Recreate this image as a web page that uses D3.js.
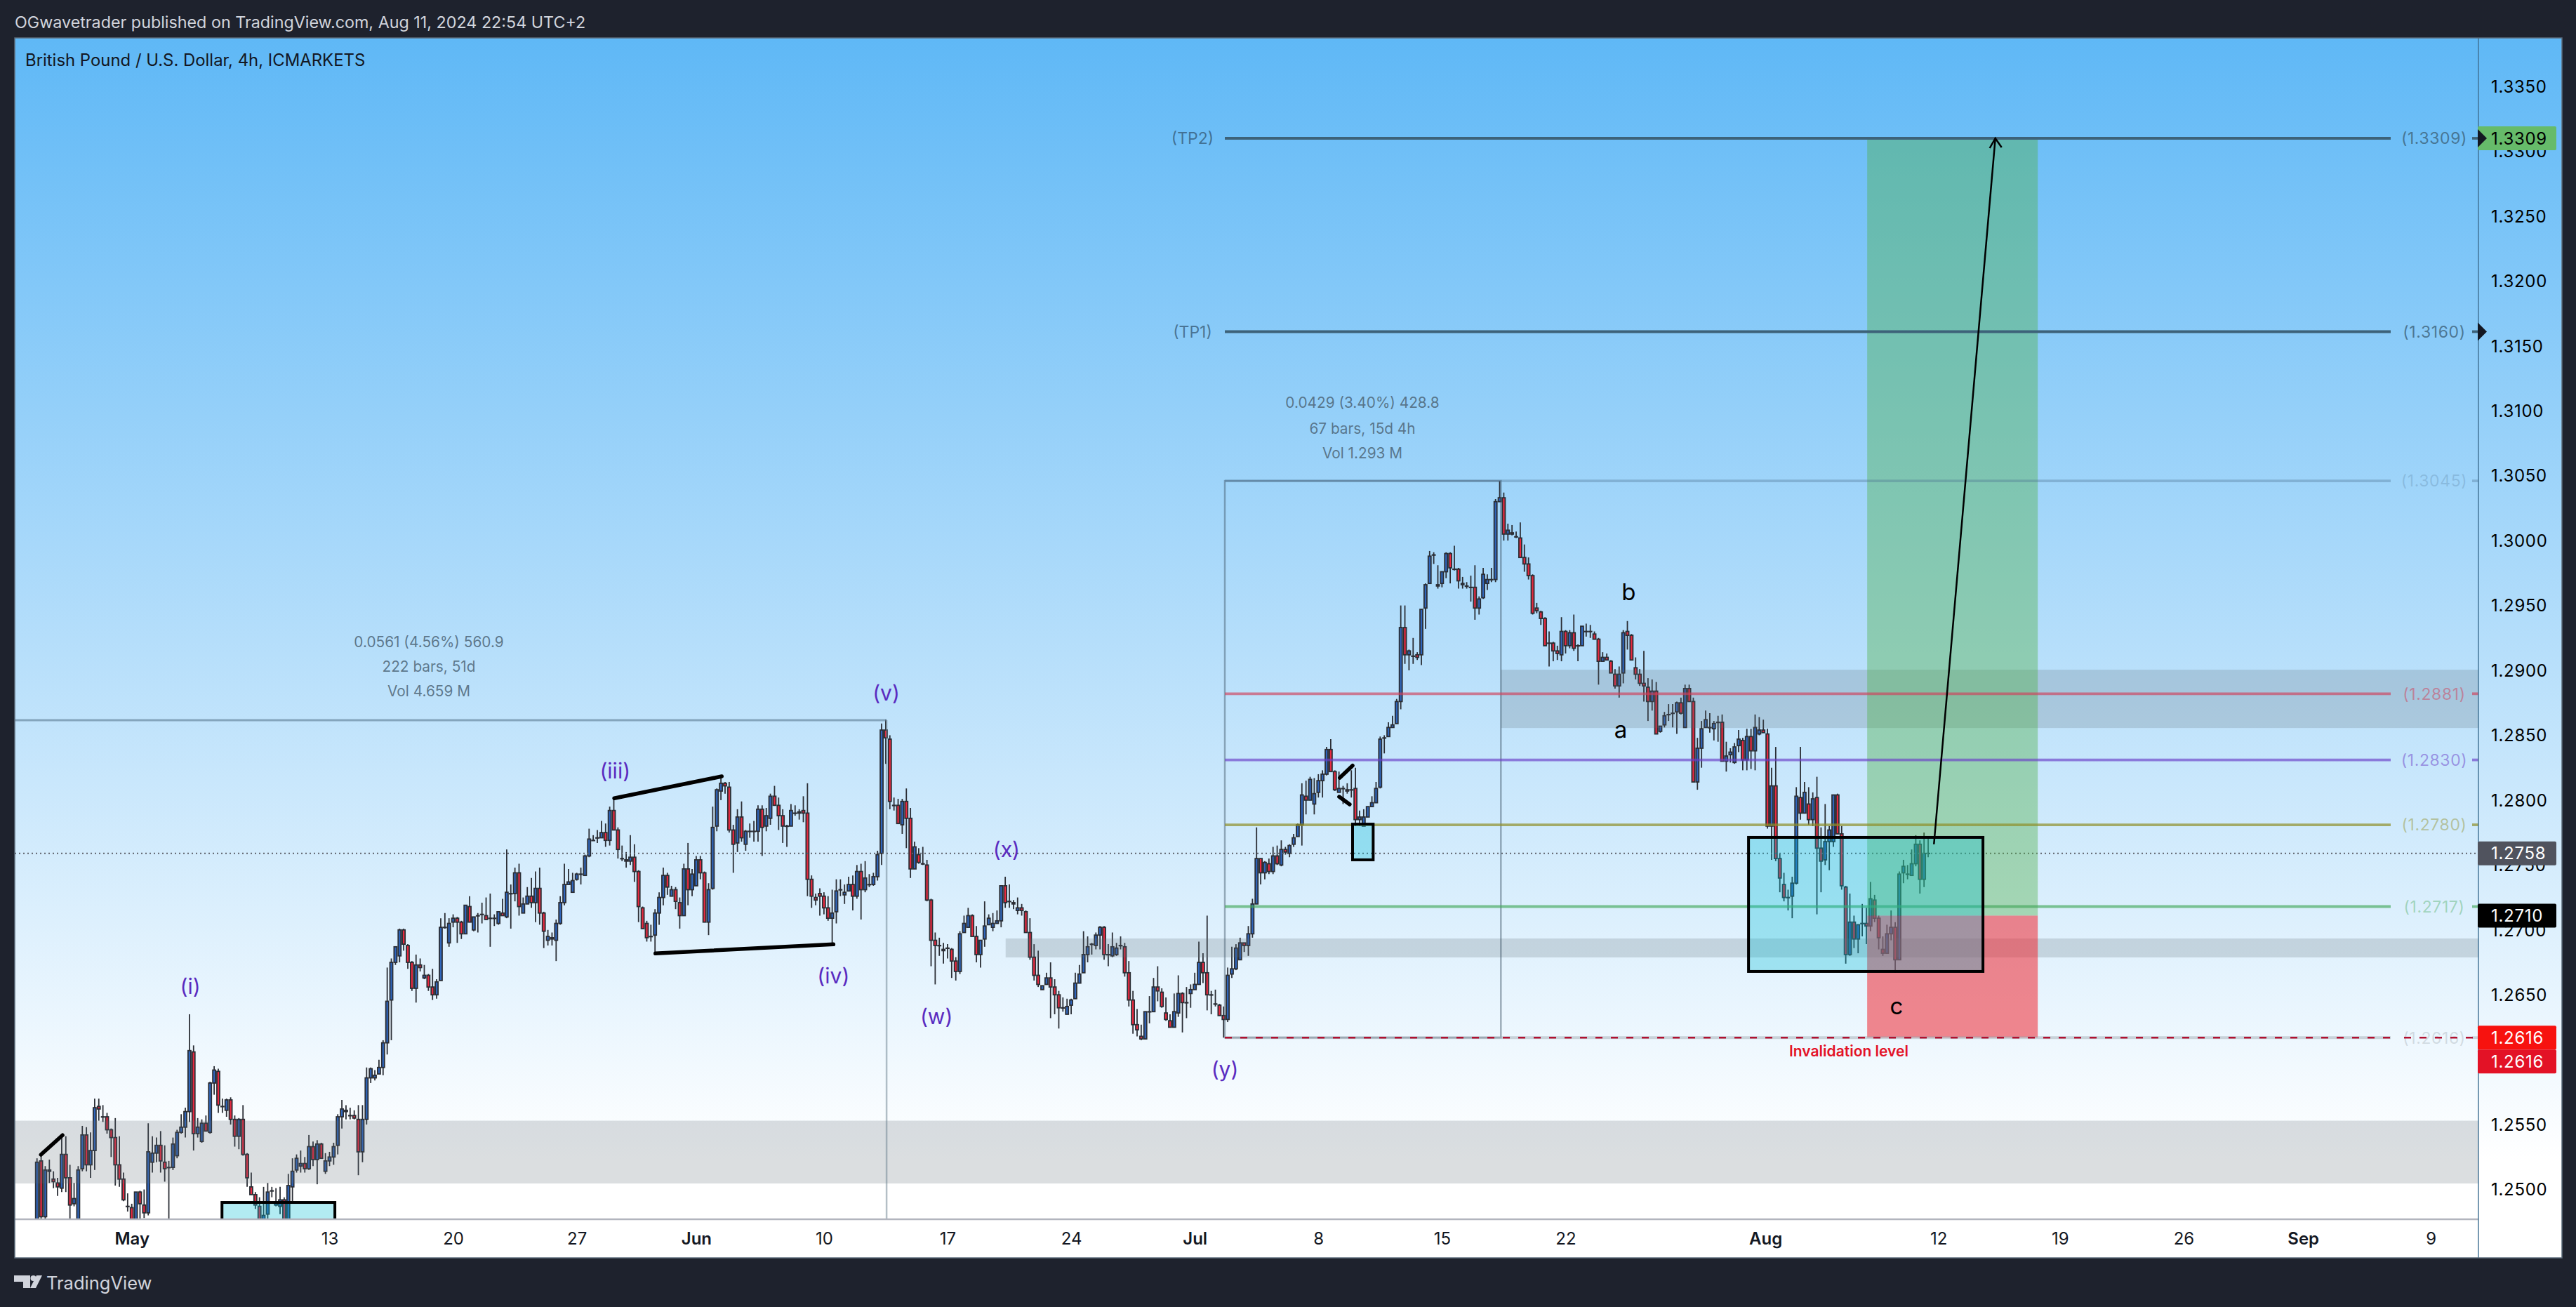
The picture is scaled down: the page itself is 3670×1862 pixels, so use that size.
<!DOCTYPE html>
<html>
<head>
<meta charset="utf-8">
<script src="https://cdn.jsdelivr.net/npm/d3@7"></script>
<style>
html, body { margin: 0; padding: 0; background: #1e222d; overflow: hidden; }
svg { display: block; }
text { font-family: Inter, "Noto Sans", sans-serif; }
</style>
</head>
<body>
<div id="chart"></div>
<script>
// GBPUSD 4h bars, one line per ten bars
var opens = [
1.2465,1.2521,1.2478,1.2513,1.2507,1.2504,1.2500,1.2526,1.2508,1.2488,
1.2470,1.2515,1.2541,1.2518,1.2529,1.2563,1.2555,1.2555,1.2545,1.2539,
1.2518,1.2507,1.2486,1.2485,1.2472,1.2497,1.2487,1.2481,1.2520,1.2527,
1.2533,1.2520,1.2516,1.2516,1.2525,1.2543,1.2547,1.2559,1.2605,1.2542,
1.2536,1.2550,1.2543,1.2581,1.2590,1.2563,1.2560,1.2568,1.2553,1.2540,
1.2553,1.2526,1.2501,1.2495,1.2486,1.2470,1.2480,1.2498,1.2487,1.2486,
1.2491,1.2472,1.2501,1.2514,1.2517,1.2519,1.2515,1.2532,1.2522,1.2534,
1.2513,1.2521,1.2524,1.2533,1.2555,1.2560,1.2556,1.2556,1.2553,1.2528,
1.2553,1.2585,1.2585,1.2588,1.2593,1.2612,1.2645,1.2674,1.2679,1.2699,
1.2687,1.2674,1.2654,1.2672,1.2662,1.2664,1.2655,1.2649,1.2660,1.2701,
1.2689,1.2705,1.2708,1.2705,1.2696,1.2717,1.2699,1.2710,1.2711,1.2710,
1.2708,1.2708,1.2704,1.2712,1.2709,1.2727,1.2727,1.2743,1.2712,1.2719,
1.2725,1.2720,1.2731,1.2712,1.2691,1.2693,1.2691,1.2704,1.2720,1.2734,
1.2728,1.2738,1.2742,1.2741,1.2756,1.2768,1.2770,1.2770,1.2774,1.2768,
1.2791,1.2776,1.2754,1.2753,1.2752,1.2755,1.2744,1.2716,1.2704,1.2694,
1.2695,1.2712,1.2724,1.2741,1.2725,1.2730,1.2720,1.2710,1.2746,1.2730,
1.2733,1.2753,1.2743,1.2705,1.2731,1.2779,1.2806,1.2812,1.2809,1.2776,
1.2766,1.2786,1.2765,1.2775,1.2775,1.2775,1.2792,1.2779,1.2785,1.2802,
1.2795,1.2787,1.2779,1.2779,1.2789,1.2789,1.2791,1.2789,1.2738,1.2724,
1.2727,1.2725,1.2716,1.2708,1.2713,1.2730,1.2726,1.2729,1.2734,1.2725,
1.2744,1.2730,1.2734,1.2734,1.2740,1.2758,1.2853,1.2846,1.2795,1.2795,
1.2780,1.2798,1.2785,1.2746,1.2757,1.2750,1.2749,1.2722,1.2691,1.2687,
1.2684,1.2685,1.2684,1.2675,1.2667,1.2697,1.2701,1.2710,1.2694,1.2680,
1.2692,1.2703,1.2701,1.2704,1.2706,1.2733,1.2721,1.2720,1.2714,1.2716,
1.2713,1.2697,1.2678,1.2664,1.2653,1.2657,1.2662,1.2655,1.2649,1.2639,
1.2634,1.2641,1.2646,1.2658,1.2666,1.2680,1.2688,1.2687,1.2695,1.2701,
1.2680,1.2679,1.2680,1.2687,1.2686,1.2666,1.2645,1.2626,1.2617,1.2615,
1.2636,1.2636,1.2655,1.2651,1.2635,1.2629,1.2624,1.2635,1.2650,1.2643,
1.2650,1.2653,1.2657,1.2674,1.2666,1.2649,1.2642,1.2641,1.2633,1.2630,
1.2665,1.2669,1.2676,1.2689,1.2687,1.2696,1.2719,1.2754,1.2743,1.2750,
1.2744,1.2756,1.2749,1.2761,1.2758,1.2765,1.2771,1.2780,1.2802,1.2799,
1.2796,1.2805,1.2814,1.2819,1.2838,1.2821,1.2805,1.2808,1.2807,1.2807,
1.2808,1.2784,1.2779,1.2786,1.2794,1.2797,1.2809,1.2847,1.2848,1.2855,
1.2858,1.2875,1.2932,1.2911,1.2910,1.2911,1.2911,1.2947,1.2966,1.2988,
1.2964,1.2966,1.2975,1.2989,1.2977,1.2977,1.2965,1.2964,1.2963,1.2963,
1.2947,1.2955,1.2966,1.2969,1.2969,1.3029,1.3032,1.3004,1.3005,1.3002,
1.3001,1.2986,1.2981,1.2972,1.2947,1.2944,1.2939,1.2920,1.2920,1.2914,
1.2911,1.2929,1.2918,1.2928,1.2918,1.2918,1.2929,1.2929,1.2927,1.2923,
1.2906,1.2909,1.2906,1.2896,1.2887,1.2897,1.2929,1.2926,1.2901,1.2896,
1.2889,1.2886,1.2875,1.2883,1.2852,1.2857,1.2865,1.2866,1.2867,1.2874,
1.2855,1.2885,1.2875,1.2813,1.2839,1.2855,1.2855,1.2854,1.2859,1.2859,
1.2829,1.2834,1.2828,1.2841,1.2845,1.2830,1.2848,1.2837,1.2850,1.2853,
1.2850,1.2779,1.2810,1.2754,1.2734,1.2724,1.2725,1.2735,1.2801,1.2789,
1.2796,1.2784,1.2801,1.2762,1.2753,1.2767,1.2767,1.2803,1.2773,1.2732,
1.2680,1.2705,1.2692,1.2704,1.2704,1.2702,1.2722,1.2708,1.2684,1.2681,
1.2696,1.2701,1.2676,1.2743,1.2742,1.2741,1.2750,1.2765,1.2738,1.2758];
var highs = [
1.2523,1.2526,1.2517,1.2522,1.2513,1.2508,1.2541,1.2540,1.2518,1.2504,
1.2517,1.2548,1.2547,1.2543,1.2569,1.2569,1.2564,1.2558,1.2546,1.2554,
1.2540,1.2512,1.2496,1.2488,1.2497,1.2498,1.2499,1.2550,1.2540,1.2539,
1.2544,1.2533,1.2521,1.2539,1.2545,1.2557,1.2562,1.2634,1.2610,1.2554,
1.2553,1.2556,1.2582,1.2594,1.2592,1.2569,1.2569,1.2570,1.2556,1.2554,
1.2564,1.2527,1.2512,1.2497,1.2493,1.2501,1.2504,1.2501,1.2500,1.2501,
1.2493,1.2511,1.2523,1.2526,1.2529,1.2524,1.2541,1.2536,1.2537,1.2535,
1.2527,1.2528,1.2535,1.2557,1.2568,1.2564,1.2562,1.2560,1.2564,1.2564,
1.2593,1.2593,1.2591,1.2599,1.2614,1.2670,1.2677,1.2686,1.2700,1.2700,
1.2688,1.2675,1.2680,1.2677,1.2672,1.2665,1.2669,1.2661,1.2708,1.2712,
1.2708,1.2711,1.2709,1.2706,1.2718,1.2725,1.2709,1.2712,1.2720,1.2724,
1.2727,1.2711,1.2713,1.2723,1.2761,1.2734,1.2747,1.2750,1.2724,1.2732,
1.2739,1.2744,1.2747,1.2713,1.2699,1.2697,1.2707,1.2725,1.2750,1.2746,
1.2743,1.2743,1.2747,1.2757,1.2777,1.2772,1.2776,1.2783,1.2781,1.2794,
1.2800,1.2778,1.2764,1.2759,1.2772,1.2765,1.2745,1.2717,1.2706,1.2703,
1.2715,1.2728,1.2747,1.2743,1.2733,1.2732,1.2724,1.2750,1.2766,1.2746,
1.2756,1.2756,1.2744,1.2735,1.2794,1.2808,1.2817,1.2813,1.2813,1.2780,
1.2792,1.2798,1.2776,1.2781,1.2783,1.2795,1.2795,1.2793,1.2804,1.2810,
1.2801,1.2792,1.2780,1.2796,1.2795,1.2792,1.2802,1.2812,1.2741,1.2727,
1.2731,1.2728,1.2725,1.2730,1.2738,1.2738,1.2734,1.2740,1.2741,1.2749,
1.2750,1.2752,1.2742,1.2743,1.2760,1.2858,1.2861,1.2849,1.2801,1.2800,
1.2800,1.2808,1.2793,1.2767,1.2762,1.2763,1.2753,1.2723,1.2697,1.2693,
1.2689,1.2688,1.2685,1.2678,1.2698,1.2710,1.2716,1.2711,1.2702,1.2691,
1.2721,1.2711,1.2712,1.2714,1.2733,1.2740,1.2734,1.2722,1.2724,1.2719,
1.2714,1.2708,1.2688,1.2683,1.2656,1.2666,1.2674,1.2661,1.2652,1.2647,
1.2646,1.2646,1.2666,1.2672,1.2698,1.2694,1.2689,1.2697,1.2702,1.2702,
1.2688,1.2697,1.2689,1.2694,1.2689,1.2675,1.2652,1.2638,1.2626,1.2636,
1.2648,1.2662,1.2671,1.2654,1.2647,1.2634,1.2650,1.2664,1.2651,1.2655,
1.2657,1.2666,1.2690,1.2681,1.2710,1.2652,1.2653,1.2642,1.2640,1.2670,
1.2686,1.2688,1.2693,1.2689,1.2702,1.2723,1.2778,1.2754,1.2752,1.2754,
1.2763,1.2764,1.2768,1.2763,1.2765,1.2773,1.2781,1.2812,1.2814,1.2817,
1.2816,1.2819,1.2822,1.2840,1.2846,1.2822,1.2821,1.2810,1.2812,1.2822,
1.2824,1.2791,1.2792,1.2794,1.2802,1.2813,1.2848,1.2849,1.2859,1.2864,
1.2877,1.2949,1.2949,1.2915,1.2924,1.2913,1.2946,1.2966,1.2991,1.2990,
1.2980,1.2975,1.2990,1.2990,1.2995,1.2978,1.2971,1.2967,1.2972,1.2980,
1.2956,1.2978,1.2973,1.2978,1.3031,1.3045,1.3036,1.3012,1.3011,1.3006,
1.3013,1.2996,1.2986,1.2973,1.2951,1.2945,1.2940,1.2929,1.2921,1.2918,
1.2940,1.2930,1.2930,1.2942,1.2919,1.2933,1.2935,1.2934,1.2929,1.2924,
1.2913,1.2912,1.2907,1.2900,1.2902,1.2930,1.2937,1.2927,1.2909,1.2900,
1.2914,1.2893,1.2892,1.2890,1.2856,1.2867,1.2873,1.2873,1.2875,1.2878,
1.2888,1.2888,1.2878,1.2847,1.2860,1.2868,1.2866,1.2860,1.2864,1.2865,
1.2844,1.2839,1.2843,1.2853,1.2847,1.2854,1.2854,1.2865,1.2863,1.2861,
1.2854,1.2824,1.2840,1.2758,1.2743,1.2730,1.2740,1.2809,1.2840,1.2813,
1.2809,1.2805,1.2817,1.2778,1.2796,1.2779,1.2803,1.2804,1.2779,1.2733,
1.2727,1.2710,1.2703,1.2719,1.2716,1.2736,1.2726,1.2710,1.2694,1.2703,
1.2714,1.2705,1.2744,1.2753,1.2749,1.2761,1.2772,1.2768,1.2774,1.2770];
var lows = [
1.2460,1.2474,1.2474,1.2504,1.2500,1.2494,1.2497,1.2497,1.2470,1.2486,
1.2465,1.2513,1.2513,1.2508,1.2514,1.2552,1.2551,1.2542,1.2524,1.2502,
1.2501,1.2490,1.2482,1.2470,1.2468,1.2472,1.2477,1.2479,1.2512,1.2520,
1.2512,1.2505,1.2470,1.2514,1.2523,1.2542,1.2539,1.2551,1.2529,1.2539,
1.2535,1.2544,1.2542,1.2572,1.2558,1.2558,1.2555,1.2549,1.2532,1.2530,
1.2525,1.2501,1.2495,1.2484,1.2468,1.2465,1.2476,1.2493,1.2486,1.2480,
1.2465,1.2470,1.2490,1.2512,1.2512,1.2512,1.2514,1.2517,1.2503,1.2523,
1.2511,1.2517,1.2518,1.2526,1.2546,1.2553,1.2553,1.2553,1.2510,1.2520,
1.2549,1.2581,1.2583,1.2588,1.2587,1.2603,1.2614,1.2672,1.2674,1.2683,
1.2669,1.2652,1.2643,1.2667,1.2661,1.2652,1.2645,1.2646,1.2660,1.2700,
1.2686,1.2701,1.2689,1.2692,1.2696,1.2705,1.2698,1.2697,1.2704,1.2707,
1.2686,1.2702,1.2703,1.2710,1.2708,1.2700,1.2721,1.2710,1.2712,1.2719,
1.2716,1.2705,1.2703,1.2685,1.2687,1.2687,1.2675,1.2703,1.2718,1.2734,
1.2728,1.2737,1.2734,1.2741,1.2755,1.2768,1.2766,1.2770,1.2763,1.2764,
1.2776,1.2754,1.2752,1.2747,1.2749,1.2736,1.2705,1.2700,1.2690,1.2690,
1.2681,1.2703,1.2718,1.2726,1.2725,1.2715,1.2700,1.2710,1.2718,1.2725,
1.2733,1.2738,1.2705,1.2695,1.2730,1.2775,1.2799,1.2804,1.2774,1.2743,
1.2759,1.2767,1.2760,1.2770,1.2767,1.2767,1.2756,1.2775,1.2780,1.2795,
1.2776,1.2766,1.2763,1.2779,1.2787,1.2784,1.2782,1.2725,1.2716,1.2718,
1.2710,1.2711,1.2706,1.2689,1.2704,1.2725,1.2719,1.2729,1.2714,1.2723,
1.2707,1.2728,1.2732,1.2733,1.2737,1.2749,1.2827,1.2792,1.2791,1.2781,
1.2773,1.2762,1.2739,1.2746,1.2750,1.2749,1.2721,1.2671,1.2657,1.2679,
1.2673,1.2677,1.2662,1.2660,1.2665,1.2697,1.2701,1.2694,1.2674,1.2670,
1.2686,1.2703,1.2698,1.2704,1.2701,1.2716,1.2716,1.2715,1.2711,1.2710,
1.2697,1.2676,1.2660,1.2655,1.2653,1.2657,1.2631,1.2634,1.2623,1.2636,
1.2634,1.2634,1.2646,1.2658,1.2666,1.2674,1.2680,1.2684,1.2684,1.2676,
1.2671,1.2678,1.2679,1.2684,1.2663,1.2640,1.2619,1.2617,1.2614,1.2615,
1.2627,1.2636,1.2644,1.2639,1.2629,1.2624,1.2624,1.2632,1.2620,1.2631,
1.2639,1.2653,1.2657,1.2658,1.2637,1.2634,1.2640,1.2633,1.2616,1.2628,
1.2662,1.2668,1.2676,1.2682,1.2679,1.2693,1.2719,1.2734,1.2738,1.2742,
1.2742,1.2749,1.2748,1.2757,1.2755,1.2763,1.2771,1.2764,1.2788,1.2799,
1.2788,1.2801,1.2801,1.2818,1.2821,1.2806,1.2805,1.2796,1.2804,1.2801,
1.2779,1.2779,1.2779,1.2786,1.2794,1.2797,1.2808,1.2835,1.2848,1.2855,
1.2858,1.2869,1.2904,1.2899,1.2904,1.2907,1.2903,1.2931,1.2966,1.2981,
1.2962,1.2963,1.2970,1.2966,1.2976,1.2962,1.2962,1.2962,1.2952,1.2938,
1.2942,1.2954,1.2961,1.2967,1.2967,1.3029,1.2999,1.2999,1.3003,1.3001,
1.2986,1.2975,1.2969,1.2942,1.2943,1.2934,1.2918,1.2902,1.2906,1.2907,
1.2906,1.2912,1.2916,1.2914,1.2906,1.2918,1.2925,1.2924,1.2923,1.2888,
1.2906,1.2907,1.2897,1.2885,1.2878,1.2889,1.2915,1.2907,1.2892,1.2887,
1.2875,1.2860,1.2868,1.2850,1.2851,1.2855,1.2860,1.2855,1.2850,1.2865,
1.2855,1.2875,1.2813,1.2807,1.2824,1.2855,1.2851,1.2845,1.2844,1.2829,
1.2821,1.2828,1.2827,1.2836,1.2822,1.2822,1.2823,1.2822,1.2849,1.2851,
1.2777,1.2753,1.2752,1.2728,1.2721,1.2714,1.2708,1.2734,1.2784,1.2789,
1.2780,1.2779,1.2711,1.2728,1.2749,1.2745,1.2763,1.2773,1.2730,1.2673,
1.2679,1.2685,1.2681,1.2694,1.2688,1.2698,1.2705,1.2684,1.2679,1.2681,
1.2691,1.2666,1.2676,1.2735,1.2738,1.2741,1.2748,1.2727,1.2732,1.2755];
var closes = [
1.2520,1.2478,1.2514,1.2514,1.2505,1.2501,1.2526,1.2508,1.2487,1.2492,
1.2514,1.2541,1.2518,1.2529,1.2562,1.2561,1.2555,1.2545,1.2539,1.2518,
1.2507,1.2491,1.2486,1.2474,1.2497,1.2488,1.2481,1.2528,1.2527,1.2533,
1.2521,1.2515,1.2516,1.2534,1.2543,1.2547,1.2559,1.2606,1.2542,1.2547,
1.2550,1.2544,1.2581,1.2591,1.2564,1.2563,1.2568,1.2553,1.2540,1.2553,
1.2526,1.2508,1.2495,1.2487,1.2472,1.2479,1.2497,1.2498,1.2489,1.2491,
1.2470,1.2502,1.2513,1.2523,1.2519,1.2515,1.2532,1.2522,1.2534,1.2523,
1.2521,1.2524,1.2532,1.2555,1.2561,1.2559,1.2556,1.2554,1.2528,1.2553,
1.2585,1.2592,1.2587,1.2593,1.2612,1.2644,1.2674,1.2686,1.2699,1.2688,
1.2674,1.2654,1.2672,1.2670,1.2664,1.2655,1.2649,1.2659,1.2701,1.2701,
1.2704,1.2708,1.2705,1.2696,1.2718,1.2705,1.2709,1.2710,1.2711,1.2707,
1.2708,1.2708,1.2713,1.2710,1.2728,1.2727,1.2743,1.2717,1.2719,1.2725,
1.2720,1.2731,1.2712,1.2698,1.2694,1.2692,1.2704,1.2720,1.2734,1.2736,
1.2737,1.2742,1.2742,1.2756,1.2769,1.2768,1.2770,1.2774,1.2768,1.2791,
1.2776,1.2761,1.2754,1.2752,1.2755,1.2744,1.2717,1.2700,1.2693,1.2694,
1.2712,1.2724,1.2741,1.2732,1.2730,1.2721,1.2710,1.2746,1.2730,1.2742,
1.2753,1.2743,1.2705,1.2730,1.2778,1.2807,1.2812,1.2810,1.2776,1.2765,
1.2786,1.2770,1.2775,1.2775,1.2775,1.2792,1.2778,1.2787,1.2802,1.2795,
1.2787,1.2779,1.2779,1.2791,1.2789,1.2790,1.2789,1.2738,1.2725,1.2722,
1.2725,1.2716,1.2708,1.2712,1.2729,1.2730,1.2728,1.2734,1.2725,1.2744,
1.2730,1.2739,1.2734,1.2740,1.2757,1.2853,1.2847,1.2798,1.2795,1.2781,
1.2798,1.2785,1.2746,1.2763,1.2751,1.2750,1.2722,1.2691,1.2687,1.2687,
1.2683,1.2685,1.2675,1.2667,1.2696,1.2704,1.2710,1.2694,1.2680,1.2691,
1.2702,1.2708,1.2704,1.2706,1.2733,1.2720,1.2721,1.2719,1.2716,1.2714,
1.2697,1.2678,1.2664,1.2657,1.2656,1.2662,1.2655,1.2649,1.2639,1.2639,
1.2640,1.2645,1.2658,1.2665,1.2680,1.2686,1.2688,1.2695,1.2701,1.2680,
1.2680,1.2686,1.2685,1.2687,1.2666,1.2645,1.2626,1.2622,1.2615,1.2636,
1.2636,1.2655,1.2652,1.2640,1.2630,1.2624,1.2636,1.2650,1.2643,1.2643,
1.2653,1.2657,1.2674,1.2666,1.2649,1.2649,1.2642,1.2633,1.2630,1.2664,
1.2669,1.2685,1.2689,1.2687,1.2696,1.2719,1.2754,1.2743,1.2751,1.2744,
1.2756,1.2750,1.2761,1.2759,1.2764,1.2770,1.2780,1.2803,1.2799,1.2815,
1.2804,1.2814,1.2819,1.2838,1.2821,1.2807,1.2808,1.2808,1.2806,1.2807,
1.2784,1.2786,1.2786,1.2794,1.2797,1.2808,1.2846,1.2847,1.2855,1.2857,
1.2875,1.2932,1.2911,1.2914,1.2910,1.2909,1.2946,1.2965,1.2987,1.2988,
1.2965,1.2975,1.2989,1.2978,1.2977,1.2968,1.2966,1.2964,1.2963,1.2947,
1.2954,1.2973,1.2969,1.2969,1.3029,1.3032,1.3004,1.3007,1.3004,1.3002,
1.2986,1.2981,1.2972,1.2943,1.2945,1.2939,1.2918,1.2920,1.2914,1.2912,
1.2929,1.2918,1.2928,1.2916,1.2918,1.2933,1.2929,1.2929,1.2923,1.2906,
1.2909,1.2907,1.2897,1.2887,1.2896,1.2928,1.2926,1.2907,1.2896,1.2889,
1.2887,1.2875,1.2883,1.2850,1.2856,1.2864,1.2865,1.2866,1.2874,1.2866,
1.2885,1.2875,1.2813,1.2839,1.2854,1.2861,1.2855,1.2858,1.2859,1.2829,
1.2833,1.2836,1.2840,1.2846,1.2830,1.2848,1.2837,1.2855,1.2853,1.2851,
1.2779,1.2810,1.2754,1.2739,1.2724,1.2724,1.2735,1.2802,1.2789,1.2805,
1.2784,1.2800,1.2762,1.2752,1.2767,1.2776,1.2803,1.2773,1.2733,1.2680,
1.2705,1.2692,1.2703,1.2704,1.2702,1.2723,1.2708,1.2693,1.2681,1.2696,
1.2701,1.2676,1.2742,1.2748,1.2742,1.2750,1.2765,1.2738,1.2758,1.2758];

// axes
var priceTicks = [1.25,1.255,1.26,1.265,1.27,1.275,1.28,1.285,1.29,1.295,1.30,1.305,1.31,1.315,1.32,1.325,1.33,1.335];
var timeTickBars = [23,71,101,131,160,191,221,251,281,311,341,371,419.5,461.5,491,521,550,581];
var timeTickLabels = ['May','13','20','27','Jun','10','17','24','Jul','8','15','22','Aug','12','19','26','Sep','9'];
var monthLabels = ['May','Jun','Jul','Aug','Sep'];

// horizontal levels: price, left label, colour, opacity of line and of label
var levelPrices = [1.3309,1.3160,1.3045,1.2881,1.2830,1.2780,1.2717,1.2616];
var levelTexts = ['(1.3309)','(1.3160)','(1.3045)','(1.2881)','(1.2830)','(1.2780)','(1.2717)','(1.2616)'];
var levelColors = ['#3d6279','#3d6279','#4a6f8f','#d0405a','#6a3fc8','#8f8f2a','#43a85a','#9aa4ac'];
var levelAlpha = [1,1,0.35,0.65,0.65,0.7,0.65,0.45];
var levelTextAlpha = [0.8,0.8,0.25,0.5,0.5,0.45,0.4,0.35];

// grey zones: [first bar, top price, bottom price]
var zoneStart = [-10,235.1,355.3];
var zoneTop = [1.2552,1.26924,1.28995];
var zoneBottom = [1.25036,1.26778,1.28546];

// thick black trend strokes: bar, price, bar, price
var trendBars = [[0.95,6.2],[140.1,166.2],[150.1,193.3],[316.2,319.3],[316.05,318.6]];
var trendPrices = [[1.25258,1.25408],[1.28004,1.28173],[1.26809,1.26879],[1.28162,1.28256],[1.28016,1.27957]];

// cyan boxes with black border
var boxBars = [[44.9,72.3],[319.3,324.3],[415.4,472.3]];
var boxPrices = [[1.2489,1.2400],[1.27805,1.2753],[1.27703,1.2667]];

// wave labels
var waveTexts = ['(i)','(iii)','(iv)','(v)','(w)','(x)','(y)'];
var waveBars = [37.2,140.3,193.3,206.1,218.3,235.3,288.3];
var wavePrices = [1.26556,1.28216,1.26637,1.28817,1.26324,1.2761,1.25918];
var letterTexts = ['a','b','c'];
var letterBars = [384.4,386.3,451.3];
var letterPrices = [1.28535,1.29595,1.26405];

var width = 3670, height = 1862;
var paneL = 21, paneT = 54, paneR = 3531, paneB = 1737, frameR = 3650, frameB = 1792;

var X = d3.scaleLinear().domain([0,581]).range([52.7,52.7 + 5.87 * 581]);
var Y = d3.scaleLinear().domain([1.25,1.335]).range([1692.7,121.2]);

var svg = d3.select('#chart').append('svg').attr('width',width).attr('height',height);
var defs = svg.append('defs');
var grad = defs.append('linearGradient').attr('id','bg').attr('x1',0).attr('y1',0).attr('x2',0).attr('y2',1);
grad.append('stop').attr('offset','0%').attr('stop-color','#5fb8f6');
grad.append('stop').attr('offset','92%').attr('stop-color','#ffffff');
grad.append('stop').attr('offset','100%').attr('stop-color','#ffffff');
defs.append('clipPath').attr('id','pane').append('rect')
    .attr('x',paneL).attr('y',paneT).attr('width',paneR - paneL).attr('height',paneB - paneT);

svg.append('rect').attr('width',width).attr('height',height).attr('fill','#1e222d');
svg.append('rect').attr('x',paneL).attr('y',paneT).attr('width',frameR - paneL).attr('height',frameB - paneT)
    .attr('fill','url(#bg)');
// time axis strip is plain white
svg.append('rect').attr('x',paneL).attr('y',paneB).attr('width',paneR - paneL).attr('height',frameB - paneB)
    .attr('fill','#ffffff');

var pane = svg.append('g').attr('clip-path','url(#pane)');

// candles
var bars = d3.range(opens.length);
var candles = pane.append('g');
candles.selectAll('line').data(bars).join('line')
    .attr('x1',d => X(d)).attr('x2',d => X(d))
    .attr('y1',d => Y(highs[d])).attr('y2',d => Y(lows[d]))
    .attr('stroke','#2b2e35').attr('stroke-width',1.8);
candles.selectAll('rect').data(bars).join('rect')
    .attr('x',d => X(d) - 2).attr('width',4)
    .attr('y',d => Y(Math.max(opens[d],closes[d])))
    .attr('height',d => Math.max(0.4,Math.abs(Y(opens[d]) - Y(closes[d]))))
    .attr('fill',d => closes[d] >= opens[d] ? '#2f66bd' : '#ea2a40')
    .attr('stroke','#2b2e35').attr('stroke-width',1.8);

// grey zones
pane.selectAll('rect.zone').data(zoneStart).join('rect').attr('class','zone')
    .attr('x',d => X(d)).attr('width',(d) => paneR - X(d))
    .attr('y',(d,i) => Y(zoneTop[i]))
    .attr('height',(d,i) => Y(zoneBottom[i]) - Y(zoneTop[i]))
    .attr('fill','rgba(90,105,115,0.22)');

// current price dotted line
pane.append('line').attr('x1',paneL).attr('x2',paneR).attr('y1',Y(1.2758)).attr('y2',Y(1.2758))
    .attr('stroke','#5d6069').attr('stroke-width',2).attr('stroke-dasharray','2 4');

// long position tool
var posLeft = X(444.2), posW = X(485.6) - X(444.2);
pane.append('rect').attr('x',posLeft).attr('width',posW).attr('y',Y(1.3309)).attr('height',Y(1.2710) - Y(1.3309))
    .attr('fill','rgba(80,175,70,0.4)');
pane.append('rect').attr('x',posLeft).attr('width',posW).attr('y',Y(1.2710)).attr('height',Y(1.2616) - Y(1.2710))
    .attr('fill','rgba(240,40,50,0.55)');

// measure tools
pane.append('line').attr('x1',X(-20)).attr('x2',X(206.2)).attr('y1',Y(1.28606)).attr('y2',Y(1.28606))
    .attr('stroke','#5b7b92').attr('stroke-opacity',0.6).attr('stroke-width',3);
pane.append('line').attr('x1',X(206.2)).attr('x2',X(206.2)).attr('y1',Y(1.28606)).attr('y2',paneB)
    .attr('stroke','#6a7f8e').attr('stroke-opacity',0.5).attr('stroke-width',2.5);
pane.append('rect').attr('x',X(288.3)).attr('y',Y(1.3045)).attr('width',X(355.3) - X(288.3)).attr('height',Y(1.2616) - Y(1.3045))
    .attr('fill','none').attr('stroke','#3f5566').attr('stroke-opacity',0.45).attr('stroke-width',2.5);

// level lines, broken round the price text
var levelEnd = 3406, levelTextX = 3468, stubStart = 3522;
var levels = pane.selectAll('g.level').data(levelPrices).join('g').attr('class','level');
levels.append('line').attr('x1',X(288.3)).attr('x2',levelEnd).attr('y1',d => Y(d)).attr('y2',d => Y(d))
    .attr('stroke',(d,i) => levelColors[i]).attr('stroke-opacity',(d,i) => levelAlpha[i]).attr('stroke-width',3.8);
levels.append('line').attr('x1',stubStart).attr('x2',paneR).attr('y1',d => Y(d)).attr('y2',d => Y(d))
    .attr('stroke',(d,i) => levelColors[i]).attr('stroke-opacity',(d,i) => levelAlpha[i]).attr('stroke-width',3.8);
levels.append('text').attr('x',levelTextX).attr('y',d => Y(d)).attr('dy','0.36em').attr('text-anchor','middle')
    .attr('font-size',23).attr('letter-spacing',0.6)
    .attr('fill',(d,i) => levelColors[i]).attr('fill-opacity',(d,i) => levelTextAlpha[i])
    .text((d,i) => levelTexts[i]);

// invalidation line
pane.append('line').attr('x1',X(288.3)).attr('x2',levelEnd).attr('y1',Y(1.2616)).attr('y2',Y(1.2616))
    .attr('stroke','#b01030').attr('stroke-width',2.5).attr('stroke-dasharray','10 12');
pane.append('line').attr('x1',3425).attr('x2',paneR).attr('y1',Y(1.2616)).attr('y2',Y(1.2616))
    .attr('stroke','#b01030').attr('stroke-width',2.5).attr('stroke-dasharray','10 12');

// cyan boxes
pane.selectAll('rect.box').data(boxBars).join('rect').attr('class','box')
    .attr('x',d => X(d[0])).attr('width',d => X(d[1]) - X(d[0]))
    .attr('y',(d,i) => Y(boxPrices[i][0]))
    .attr('height',(d,i) => Y(boxPrices[i][1]) - Y(boxPrices[i][0]))
    .attr('fill','rgba(0,188,212,0.3)').attr('stroke','#000').attr('stroke-width',4);

// trend strokes
pane.selectAll('line.trend').data(trendBars).join('line').attr('class','trend')
    .attr('x1',d => X(d[0])).attr('x2',d => X(d[1]))
    .attr('y1',(d,i) => Y(trendPrices[i][0])).attr('y2',(d,i) => Y(trendPrices[i][1]))
    .attr('stroke','#000').attr('stroke-width',5.5).attr('stroke-linecap','round');

// arrow to TP2
var ax = X(475.3), ay = Y(1.3309);
pane.append('line').attr('x1',X(460.4)).attr('y1',Y(1.2765)).attr('x2',ax).attr('y2',ay)
    .attr('stroke','#000').attr('stroke-width',2.5);
pane.append('path').attr('d','M' + (ax - 8) + ',' + (ay + 14) + ' L' + ax + ',' + ay + ' L' + (ax + 9) + ',' + (ay + 13))
    .attr('fill','none').attr('stroke','#000').attr('stroke-width',2.5);

// wave and abc labels
pane.selectAll('text.wave').data(waveTexts).join('text').attr('class','wave')
    .attr('x',(d,i) => X(waveBars[i])).attr('y',(d,i) => Y(wavePrices[i])).attr('dy','0.36em')
    .attr('text-anchor','middle').attr('font-size',30).attr('fill','#5a2bc0').text(d => d);
pane.selectAll('text.letter').data(letterTexts).join('text').attr('class','letter')
    .attr('x',(d,i) => X(letterBars[i])).attr('y',(d,i) => Y(letterPrices[i])).attr('dy','0.36em')
    .attr('text-anchor','middle').attr('font-size',33).attr('fill','#000').text(d => d);

// tool captions
var captionGrey = '#4d6577';
function caption(lines, cx, ys) {
    pane.selectAll(null).data(lines).join('text')
        .attr('x',cx).attr('y',(d,i) => ys[i]).attr('dy','0.36em').attr('text-anchor','middle')
        .attr('font-size',20.8).attr('fill',captionGrey).attr('fill-opacity',0.85).text(d => d);
}
caption(['0.0561 (4.56%) 560.9','222 bars, 51d','Vol 4.659 M'],611,[915,950,985]);
caption(['0.0429 (3.40%) 428.8','67 bars, 15d 4h','Vol 1.293 M'],1941,[574,611,646]);
pane.append('text').attr('x',1699).attr('y',Y(1.3309)).attr('dy','0.36em').attr('text-anchor','middle')
    .attr('font-size',23).attr('fill','#2f4f68').attr('fill-opacity',0.7).text('(TP2)');
pane.append('text').attr('x',1699).attr('y',Y(1.3160)).attr('dy','0.36em').attr('text-anchor','middle')
    .attr('font-size',23).attr('fill','#2f4f68').attr('fill-opacity',0.7).text('(TP1)');
pane.append('text').attr('x',2634).attr('y',1497).attr('dy','0.36em').attr('text-anchor','middle')
    .attr('font-size',21).attr('font-weight',600).attr('fill','#e31226').text('Invalidation level');

// price scale
var yAxis = d3.axisRight(Y).tickValues(priceTicks).tickFormat(d3.format('.4f')).tickSize(0).tickPadding(0);
var yG = svg.append('g').attr('transform','translate(3549,0)').call(yAxis);
yG.select('.domain').remove();
yG.selectAll('text').attr('font-size',24).attr('font-family','Inter').attr('letter-spacing',0.7).attr('dy','0.42em').attr('fill','#000');

// time scale
var xAxis = d3.axisBottom(X).tickValues(timeTickBars).tickFormat((d,i) => timeTickLabels[i]).tickSize(0).tickPadding(0);
var xG = svg.append('g').attr('transform','translate(0,1756)').call(xAxis);
xG.select('.domain').remove();
xG.selectAll('text').attr('font-size',24).attr('font-family','Inter').attr('fill','#131722')
    .attr('font-weight',(d,i) => monthLabels.indexOf(timeTickLabels[i]) >= 0 ? 600 : 400);

// pane separators and frame
svg.append('line').attr('x1',paneL).attr('x2',paneR).attr('y1',paneB).attr('y2',paneB)
    .attr('stroke','#b2b5be').attr('stroke-width',2.5);
svg.append('line').attr('x1',paneR).attr('x2',paneR).attr('y1',paneT).attr('y2',frameB)
    .attr('stroke','#3f6f92').attr('stroke-opacity',0.7).attr('stroke-width',2);
svg.append('rect').attr('x',paneL).attr('y',paneT).attr('width',frameR - paneL).attr('height',frameB - paneT)
    .attr('fill','none').attr('stroke','#5b6b7a').attr('stroke-width',1.5);

// price tags on the scale
var tagPrices = [1.3309,1.2758,1.2710,1.2616,1.2616];
var tagTexts = ['1.3309','1.2758','1.2710','1.2616','1.2616'];
var tagFills = ['#66bb6a','#50535e','#000000','#f7120f','#e31226'];
var tagInk = ['#000','#fff','#fff','#fff','#fff'];
var tagShift = [0,0,0,0,34];
var tags = svg.selectAll('g.tag').data(tagPrices).join('g').attr('class','tag')
    .attr('transform',(d,i) => 'translate(3530,' + (Y(d) + tagShift[i]) + ')');
tags.append('rect').attr('x',0).attr('y',-17).attr('width',112).attr('height',34).attr('rx',2)
    .attr('fill',(d,i) => tagFills[i]);
tags.append('text').attr('x',19).attr('dy','0.36em').attr('font-size',24).attr('letter-spacing',0.7)
    .attr('fill',(d,i) => tagInk[i]).text((d,i) => tagTexts[i]);

// little markers next to the TP prices
svg.selectAll('path.mark').data([1.3309,1.3160]).join('path').attr('class','mark')
    .attr('d',d => 'M3530,' + (Y(d) - 13) + ' L3543,' + Y(d) + ' L3530,' + (Y(d) + 13) + ' Z')
    .attr('fill','#131722');

// header and legend
svg.append('text').attr('x',21).attr('y',32).attr('dy','0.36em').attr('font-size',23.3).attr('fill','#d1d4dc')
    .text('OGwavetrader published on TradingView.com, Aug 11, 2024 22:54 UTC+2');
svg.append('text').attr('x',36).attr('y',85).attr('dy','0.36em').attr('font-size',23.9).attr('fill','#131722')
    .text('British Pound / U.S. Dollar, 4h, ICMARKETS');

// logo
svg.append('path').attr('fill','#d1d4dc')
    .attr('d','M20,1817 H43 V1835 H33 V1826 H20 Z M52,1817 H60 L51,1835 H43 Z');
svg.append('circle').attr('cx',47.5).attr('cy',1821).attr('r',4).attr('fill','#d1d4dc');
svg.append('text').attr('x',66).attr('y',1828).attr('dy','0.36em').attr('font-size',25.5).attr('fill','#d1d4dc').text('TradingView');
</script>
</body>
</html>
